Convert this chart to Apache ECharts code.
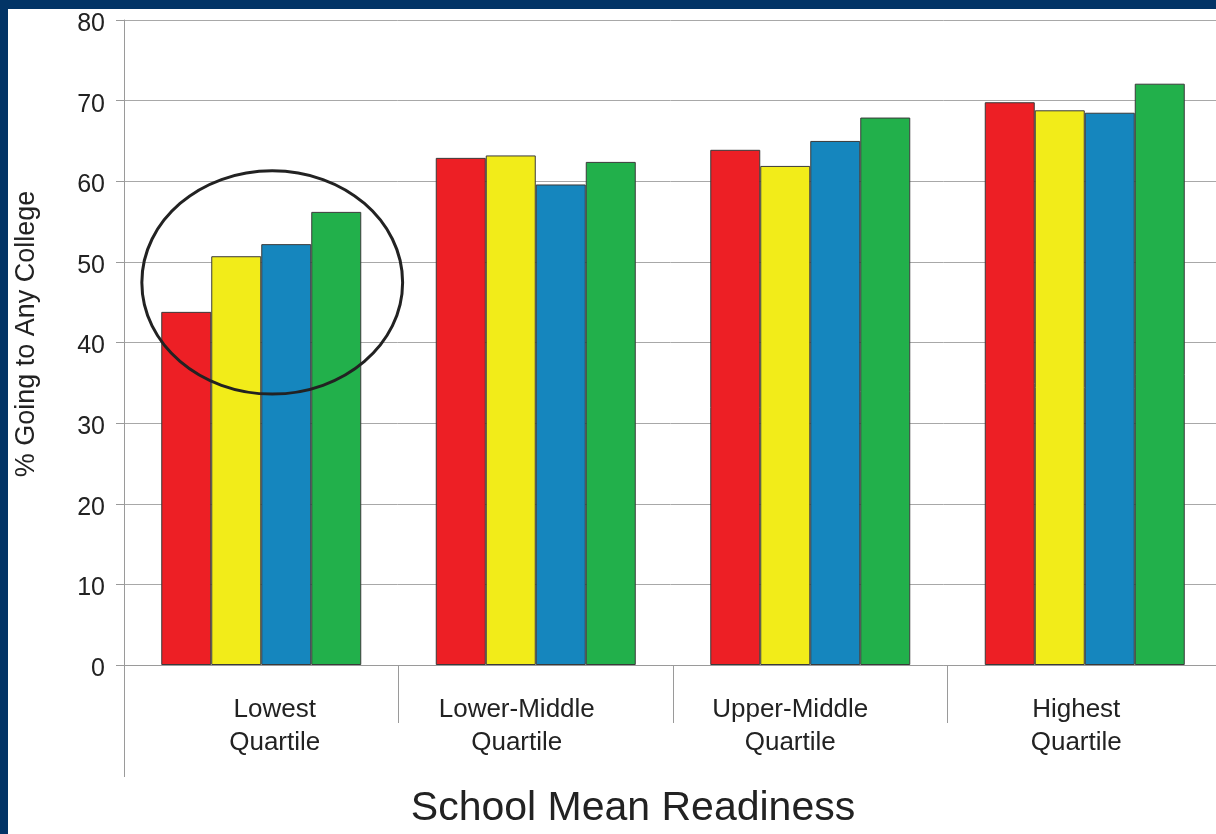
<!DOCTYPE html>
<html>
<head>
<meta charset="utf-8">
<script src="https://cdn.jsdelivr.net/npm/echarts@6/dist/echarts.min.js"></script>
<style>
  html, body { margin: 0; padding: 0; background: #ffffff; }
  #chart { position: absolute; left: 0; top: 0; width: 1216px; height: 834px; }
  .frame { position: absolute; background: #023466; z-index: 5; }
</style>
</head>
<body>
<div id="chart"></div>
<div class="frame" style="left:0;top:0;width:1216px;height:9px;"></div>
<div class="frame" style="left:0;top:0;width:8px;height:834px;"></div>
<script>
// Quartiles of school mean readiness
const categories = ['Lowest\nQuartile', 'Lower-Middle\nQuartile', 'Upper-Middle\nQuartile', 'Highest\nQuartile'];

// % going to any college, one array per bar colour
const redValues    = [43.8, 62.9, 63.9, 69.8];
const yellowValues = [50.7, 63.2, 61.9, 68.8];
const blueValues   = [52.2, 59.6, 65.0, 68.5];
const greenValues  = [56.2, 62.4, 67.9, 72.1];

const yTicks = [0, 10, 20, 30, 40, 50, 60, 70, 80];

const colors = ['#ED1F25', '#F2EC19', '#1586BE', '#22B04B'];
const seriesValues = [redValues, yellowValues, blueValues, greenValues];

const FONT = '"Liberation Sans", Arial, Helvetica, sans-serif';

const chart = echarts.init(document.getElementById('chart'));

const gridLeft = 124, gridTop = 20, gridHeight = 645, gridWidth = 1098;

// per-category label nudges (left/right padding shifts the centred text)
const labelRich = {
  c0: { padding: [0, 0, 0, 27] },
  c1: { padding: [0, 38, 0, 0] },
  c2: { padding: [0, 40, 0, 0] },
  c3: { padding: [0, 17, 0, 0] }
};
Object.keys(labelRich).forEach(k => Object.assign(labelRich[k], {
  fontSize: 26, fontFamily: FONT, color: '#222222', lineHeight: 33
}));

chart.setOption({
  backgroundColor: '#ffffff',
  animation: false,
  grid: {
    left: gridLeft, top: gridTop, width: gridWidth, height: gridHeight,
    outerBoundsMode: 'none'
  },
  xAxis: {
    type: 'category',
    data: categories,
    axisLine: { show: true, lineStyle: { color: '#9a9a9a', width: 1 } },
    axisTick: { show: true, length: 58, interval: 0, lineStyle: { color: '#9a9a9a', width: 1 } },
    axisLabel: {
      interval: 0,
      margin: 28,
      color: '#222222',
      fontFamily: FONT,
      fontSize: 26,
      lineHeight: 33,
      align: 'center',
      formatter: (value, index) => value.split('\n').map(s => `{c${index}|${s}}`).join('\n'),
      rich: labelRich
    },
    splitLine: { show: false }
  },
  yAxis: {
    type: 'value',
    min: yTicks[0],
    max: yTicks[yTicks.length - 1],
    interval: 10,
    axisLine: { show: true, lineStyle: { color: '#9a9a9a', width: 1 } },
    axisTick: { show: true, length: 8, lineStyle: { color: '#9a9a9a', width: 1 } },
    axisLabel: {
      margin: 19,
      color: '#222222',
      fontFamily: FONT,
      fontSize: 25,
      formatter: '{t|{value}}',
      rich: { t: { fontSize: 25, fontFamily: FONT, color: '#222222', padding: [8, 0, 0, 0] } }
    },
    splitLine: { show: true, lineStyle: { color: '#a8a8a8', width: 1 } }
  },
  series: seriesValues.map((vals, i) => ({
    type: 'bar',
    data: vals,
    barWidth: 50,
    barGap: '0%',
    itemStyle: { color: colors[i], borderColor: '#3a3a3a', borderWidth: 1 }
  }))
});

// Annotation ellipse around the lowest-quartile group, axis extension and titles
function drawOverlay() {
  const c0 = chart.convertToPixel({ xAxisIndex: 0 }, 0);
  const c1 = chart.convertToPixel({ xAxisIndex: 0 }, 1);
  const bandW = c1 - c0;
  const yTopEl = chart.convertToPixel({ yAxisIndex: 0 }, 61.3);
  const yBotEl = chart.convertToPixel({ yAxisIndex: 0 }, 33.6);
  const leftEl = c0 - 0.435 * bandW;
  const rightEl = c0 + 0.515 * bandW;
  const y0 = chart.convertToPixel({ yAxisIndex: 0 }, 0);

  chart.setOption({
    graphic: [
      {
        type: 'ellipse',
        shape: {
          cx: (leftEl + rightEl) / 2,
          cy: (yTopEl + yBotEl) / 2,
          rx: (rightEl - leftEl) / 2,
          ry: (yBotEl - yTopEl) / 2
        },
        style: { fill: null, stroke: '#222222', lineWidth: 3 },
        z: 100
      },
      {
        type: 'line',
        shape: { x1: gridLeft + 0.5, y1: y0, x2: gridLeft + 0.5, y2: y0 + 112 },
        style: { stroke: '#9a9a9a', lineWidth: 1 },
        z: 50
      },
      {
        type: 'text',
        x: 27,
        y: 334,
        rotation: Math.PI / 2,
        style: {
          text: '% Going to Any College',
          fill: '#222222',
          font: '27px ' + FONT,
          align: 'center',
          verticalAlign: 'middle'
        },
        z: 60
      },
      {
        type: 'text',
        x: 633,
        y: 809,
        style: {
          text: 'School Mean Readiness',
          fill: '#222222',
          font: '41px ' + FONT,
          align: 'center',
          verticalAlign: 'middle'
        },
        z: 60
      }
    ]
  });
}
drawOverlay();
</script>
</body>
</html>
